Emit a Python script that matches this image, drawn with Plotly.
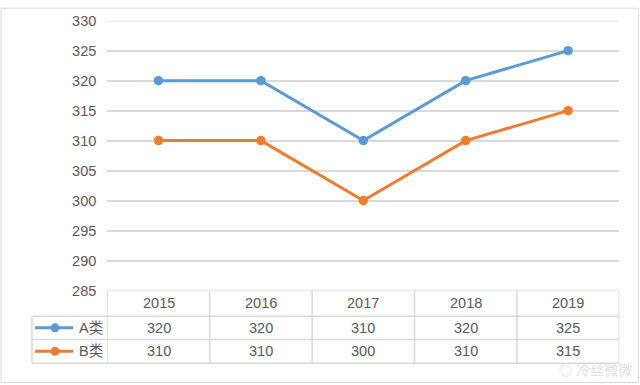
import plotly.graph_objects as go

years = ["2015", "2016", "2017", "2018", "2019"]
series_a = [320, 320, 310, 320, 325]
series_b = [310, 310, 300, 310, 315]
series_names = ["A类", "B类"]
y_ticks = [285, 290, 295, 300, 305, 310, 315, 320, 325, 330]

W = 640
FIG_H = 394
# the captured picture maps figure rows as: picture_y = OFF + SCALE * figure_y
OFF, SCALE = 7.3, 0.96
BLUE = "#5B9BD5"
ORANGE = "#ED7D31"
GRID = "#D9D9D9"
TXT = "#595959"
FONT = "Liberation Sans, Noto Sans CJK SC, sans-serif"
FS = 14.5

def px(x):
    return x / W

def py(y):
    return 1 - ((y - OFF) / SCALE) / FIG_H

x_left, x_right = 107.3, 619.3
y_top, y_bot = 20, 290
row_hdr_bot, row_a_bot, row_b_bot = 315.7, 339.0, 362.7
leg_left = 32

fig = go.Figure()
idx = list(range(len(years)))
for name, vals, col in [(series_names[0], series_a, BLUE), (series_names[1], series_b, ORANGE)]:
    fig.add_trace(go.Scatter(
        x=idx, y=vals, mode="lines+markers", name=name,
        line=dict(color=col, width=3),
        marker=dict(color=col, size=9.5),
        showlegend=False, cliponaxis=False,
    ))

n = len(years)
shapes = []
for v in (y_ticks[0], y_ticks[-1]):
    shapes.append(dict(type="line", xref="x", yref="y", x0=-0.5, x1=n - 0.5, y0=v, y1=v,
                       line=dict(color=GRID, width=1.5), layer="below"))
shapes.append(dict(type="rect", xref="paper", yref="paper",
                   x0=px(1), x1=px(638.5), y0=py(382), y1=0.9995,
                   line=dict(color=GRID, width=1)))
for k in range(n + 1):
    shapes.append(dict(type="line", xref="x", yref="paper",
                       x0=k - 0.5, x1=k - 0.5, y0=py(row_b_bot), y1=py(y_bot),
                       line=dict(color=GRID, width=1.5)))
shapes.append(dict(type="line", xref="paper", yref="paper",
                   x0=px(leg_left), x1=px(leg_left), y0=py(row_b_bot), y1=py(row_hdr_bot),
                   line=dict(color=GRID, width=1.5)))
for yy in [row_hdr_bot, row_a_bot, row_b_bot]:
    shapes.append(dict(type="line", xref="paper", yref="paper",
                       x0=px(leg_left), x1=px(x_right), y0=py(yy), y1=py(yy),
                       line=dict(color=GRID, width=1.5)))

tf = dict(size=FS, color=TXT, family=FONT)
annotations = []
for i, yr in enumerate(years):
    annotations.append(dict(x=i, y=py((y_bot + row_hdr_bot) / 2), xref="x", yref="paper",
                            xanchor="center", yanchor="middle",
                            text=yr, showarrow=False, font=tf))
    annotations.append(dict(x=i, y=py((row_hdr_bot + row_a_bot) / 2), xref="x", yref="paper",
                            xanchor="center", yanchor="middle",
                            text=str(series_a[i]), showarrow=False, font=tf))
    annotations.append(dict(x=i, y=py((row_a_bot + row_b_bot) / 2), xref="x", yref="paper",
                            xanchor="center", yanchor="middle",
                            text=str(series_b[i]), showarrow=False, font=tf))

for name, col, (r0, r1) in [(series_names[0], BLUE, (row_hdr_bot, row_a_bot)),
                            (series_names[1], ORANGE, (row_a_bot, row_b_bot))]:
    yc = (r0 + r1) / 2
    shapes.append(dict(type="line", xref="paper", yref="paper",
                       x0=px(35), x1=px(73), y0=py(yc), y1=py(yc),
                       line=dict(color=col, width=3)))
    shapes.append(dict(type="circle", xref="paper", yref="paper",
                       x0=px(50.5), x1=px(59.5), y0=py(yc + 4.5), y1=py(yc - 4.5),
                       fillcolor=col, line=dict(color=col, width=0)))
    annotations.append(dict(x=px(77), y=py(yc), xref="paper", yref="paper",
                            xanchor="left", yanchor="middle",
                            text=name, showarrow=False, font=tf))

annotations.append(dict(x=px(634), y=py(369), xref="paper", yref="paper",
                        xanchor="right", yanchor="middle",
                        text="◎ 冷丝微微", showarrow=False,
                        font=dict(size=14, color="#E0E0E0", family="Noto Sans CJK SC")))

fig.update_layout(
    width=W, height=FIG_H,
    margin=dict(l=0, r=0, t=0, b=0),
    paper_bgcolor="white", plot_bgcolor="white",
    xaxis=dict(domain=[px(x_left), px(x_right)], range=[-0.5, n - 0.5],
               showgrid=False, zeroline=False, showticklabels=False, showline=False, ticks=""),
    yaxis=dict(domain=[py(y_bot), py(y_top)], range=[285, 330],
               tickvals=y_ticks, ticktext=[str(v) for v in y_ticks],
               showgrid=True, gridcolor=GRID, gridwidth=1.5, zeroline=False, showline=False,
               ticks="", ticklabelstandoff=10, tickfont=tf),
    shapes=shapes, annotations=annotations,
    font=dict(family=FONT),
)

post = "document.body.style.margin='0';document.body.style.overflow='hidden';"
fig.write_html("out.html", config={"displayModeBar": False}, post_script=post)
